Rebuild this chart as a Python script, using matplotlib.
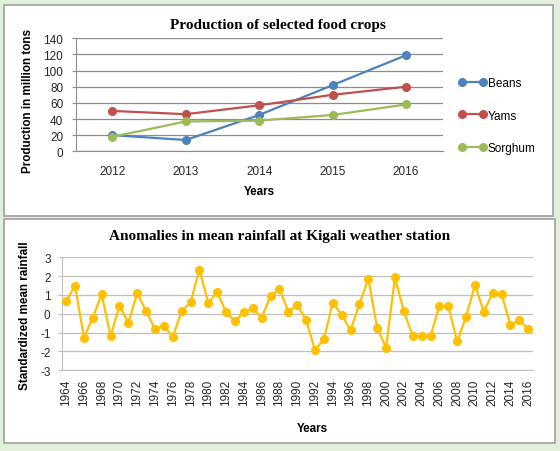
import matplotlib
matplotlib.use("Agg")
import matplotlib.pyplot as plt
from matplotlib.patches import Rectangle

# top chart data
crop_years = ["2012", "2013", "2014", "2015", "2016"]
beans = [20, 14, 45, 82, 119]
yams = [50, 46, 57, 70, 80]
sorghum = [18, 37, 38, 45, 58]

# bottom chart data
rain_years = list(range(1964, 2017))
anomalies = [
    0.67, 1.50, -1.26, -0.21, 1.05, -1.19, 0.42, -0.47, 1.09, 0.16,
    -0.82, -0.63, -1.23, 0.14, 0.61, 2.35, 0.56, 1.16, 0.07, -0.37,
    0.07, 0.30, -0.21, 0.95, 1.33, 0.12, 0.47, -0.32, -1.93, -1.35,
    0.60, -0.05, -0.88, 0.51, 1.86, -0.75, -1.79, 1.93, 0.14, -1.18,
    -1.19, -1.19, 0.42, 0.40, -1.47, -0.16, 1.53, 0.12, 1.10, 1.05,
    -0.60, -0.32, -0.82,
]

W, H = 560, 452
bg = "#E2EFDA"
tick_font = "Liberation Sans"
title_font = "Liberation Serif"
plt.rcParams["axes.unicode_minus"] = False

fig = plt.figure(figsize=(W / 100, H / 100), dpi=100, facecolor=bg)


def px_box(x0, y0, x1, y1):
    # pixel box (top-left origin) -> figure fraction [left, bottom, width, height]
    return [x0 / W, 1 - y1 / H, (x1 - x0) / W, (y1 - y0) / H]


# white panels
for (x0, y0, x1, y1) in [(3.5, 6, 552.5, 216.5), (3.5, 220, 555, 444)]:
    l, b, w, h = px_box(x0, y0, x1, y1)
    fig.patches.append(Rectangle((l, b), w, h, transform=fig.transFigure,
                                 facecolor="white", edgecolor="#A6A6A6",
                                 linewidth=1.3, zorder=-5))

# ---- top chart ----
ax1 = fig.add_axes(px_box(75.7, 39.3, 442.7, 152.3), zorder=2)
x_idx = list(range(len(crop_years)))
series = [("Beans", beans, "#4F81BD"), ("Yams", yams, "#C0504D"),
          ("Sorghum", sorghum, "#9BBB59")]
for name, vals, col in series:
    ax1.plot(x_idx, vals, color=col, linewidth=1.6, marker="o",
             markersize=5.5, label=name, zorder=3)
ax1.set_xlim(-0.5, len(crop_years) - 0.5)
ax1.set_ylim(0, 140)
ax1.set_yticks(range(0, 141, 20))
ax1.set_xticks(x_idx)
ax1.set_xticklabels(crop_years)
ax1.grid(axis="y", color="#8C8C8C", linewidth=0.9)
ax1.set_axisbelow(True)
for s in ["top", "right"]:
    ax1.spines[s].set_visible(False)
ax1.spines["left"].set_color("#8C8C8C")
ax1.spines["bottom"].set_color("#8C8C8C")
ax1.tick_params(axis="y", length=3, color="#8C8C8C", pad=6, labelsize=8.5,
                labelcolor="#262626")
ax1.tick_params(axis="x", length=0, pad=10, labelsize=8.5, labelcolor="#262626")
for lab in ax1.get_xticklabels() + ax1.get_yticklabels():
    lab.set_fontfamily(tick_font)
ax1.set_facecolor("none")

fig.legend(loc="center left", bbox_to_anchor=(458 / W, 1 - 116.5 / H),
           frameon=False, numpoints=2, handlelength=2.4, handletextpad=0.1,
           labelspacing=1.75, borderpad=0, borderaxespad=0,
           prop={"family": tick_font, "size": 8.5})

fig.text(278 / W, 1 - 26 / H, "Production of selected food crops",
         ha="center", va="center", fontsize=11, fontweight="bold",
         family=title_font)
fig.text(28 / W, 1 - 101 / H, "Production in million tons", rotation=90,
         ha="center", va="center", fontsize=8.4, fontweight="bold",
         family=tick_font)
fig.text(259 / W, 1 - 192 / H, "Years", ha="center", va="center",
         fontsize=8.4, fontweight="bold", family=tick_font)

# ---- bottom chart ----
ax2 = fig.add_axes(px_box(61.7, 258.3, 532.7, 371.3), zorder=2)
r_idx = list(range(len(rain_years)))
ax2.plot(r_idx, anomalies, color="#FFC000", linewidth=1.6, marker="o",
         markersize=5.5, zorder=3)
ax2.set_xlim(-0.5, len(rain_years) - 0.5)
ax2.set_ylim(-3, 3)
ax2.set_yticks(range(-3, 4))
ax2.set_xticks(r_idx[::2])
ax2.set_xticklabels([str(y) for y in rain_years[::2]], rotation=90)
ax2.grid(axis="y", color="#BFBFBF", linewidth=0.9)
ax2.set_axisbelow(True)
for s in ["top", "right"]:
    ax2.spines[s].set_visible(False)
ax2.spines["left"].set_color("#BFBFBF")
ax2.spines["bottom"].set_color("#BFBFBF")
ax2.tick_params(axis="y", length=3, color="#BFBFBF", pad=5, labelsize=8.5,
                labelcolor="#262626")
ax2.tick_params(axis="x", length=0, pad=6, labelsize=8.5, labelcolor="#262626")
for lab in ax2.get_xticklabels() + ax2.get_yticklabels():
    lab.set_fontfamily(tick_font)
ax2.set_facecolor("none")

fig.text(280 / W, 1 - 237 / H,
         "Anomalies in mean rainfall at Kigali weather station",
         ha="center", va="center", fontsize=11, fontweight="bold",
         family=title_font)
fig.text(25 / W, 1 - 316 / H, "Standardized mean rainfall", rotation=90,
         ha="center", va="center", fontsize=8.4, fontweight="bold",
         family=tick_font)
fig.text(312 / W, 1 - 429 / H, "Years", ha="center", va="center",
         fontsize=8.4, fontweight="bold", family=tick_font)

fig.savefig("out.png", dpi=100, facecolor=bg)
